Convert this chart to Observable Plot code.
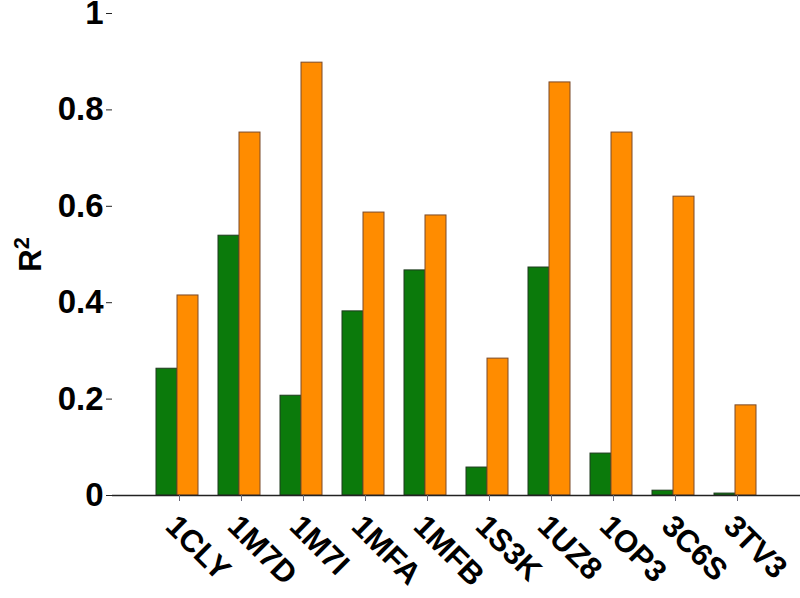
<!DOCTYPE html>
<html>
<head>
<meta charset="utf-8">
<script src="https://cdn.jsdelivr.net/npm/d3@7"></script>
<script src="https://cdn.jsdelivr.net/npm/@observablehq/plot@0.6"></script>
<style>
  html, body { margin: 0; padding: 0; background: #fff; }
  #chart svg { display: block; overflow: visible; }
</style>
</head>
<body>
<div id="chart"></div>
<script>
const categories = ["1CLY", "1M7D", "1M7I", "1MFA", "1MFB", "1S3K", "1UZ8", "1OP3", "3C6S", "3TV3"];
const greenValues = [0.263, 0.539, 0.207, 0.382, 0.467, 0.058, 0.473, 0.087, 0.010, 0.004];
const orangeValues = [0.415, 0.753, 0.898, 0.587, 0.581, 0.284, 0.857, 0.753, 0.620, 0.187];
const yTicks = [0, 0.2, 0.4, 0.6, 0.8, 1];
const yLabel = "R²";

const greenData = categories.map((c, i) => ({cat: c, value: greenValues[i]}));
const orangeData = categories.map((c, i) => ({cat: c, value: orangeValues[i]}));

const font = "'Liberation Sans', Arial, Helvetica, sans-serif";

const chart = Plot.plot({
  width: 800,
  height: 598,
  marginLeft: 112,
  marginRight: 0,
  marginTop: 13,
  marginBottom: 103,
  style: {fontFamily: font, fontWeight: "bold", color: "#000", background: "#fff"},
  x: {type: "band", domain: categories, paddingInner: 0.33, paddingOuter: 0.64},
  y: {domain: [0, 1]},
  marks: [
    Plot.barY(greenData, {x: "cat", y: "value", fill: "#0b7a0b", stroke: "#1e3a1e", strokeWidth: 1, insetRight: 21}),
    Plot.barY(orangeData, {x: "cat", y: "value", fill: "#ff8c00", stroke: "#7a4a2a", strokeWidth: 1, insetLeft: 21}),
    Plot.ruleY([0], {stroke: "#222", strokeWidth: 1.5}),
    Plot.axisY({
      ticks: yTicks,
      tickFormat: d => String(d),
      tickSize: 6,
      tickPadding: 3,
      fontSize: 33,
      fontWeight: "bold",
      line: true,
      stroke: "#222",
      label: yLabel,
      labelAnchor: "center",
      labelArrow: false,
      labelOffset: 94
    }),
    Plot.axisX({
      tickSize: 6,
      stroke: "#667",
      tickRotate: 45,
      textAnchor: "start",
      lineAnchor: "top",
      fontSize: 31,
      fontWeight: "bold",
      tickPadding: 11,
      dx: 2,
      label: null
    })
  ]
});
// render the axis label's "2" as a true superscript
chart.querySelectorAll("text").forEach(t => {
  if (t.textContent === yLabel) {
    t.textContent = "R";
    t.setAttribute("font-size", "31");
    const sup = document.createElementNS("http://www.w3.org/2000/svg", "tspan");
    sup.setAttribute("dy", "-0.55em");
    sup.setAttribute("font-size", "0.7em");
    sup.textContent = "2";
    t.appendChild(sup);
  }
});
document.getElementById("chart").appendChild(chart);
</script>
</body>
</html>
